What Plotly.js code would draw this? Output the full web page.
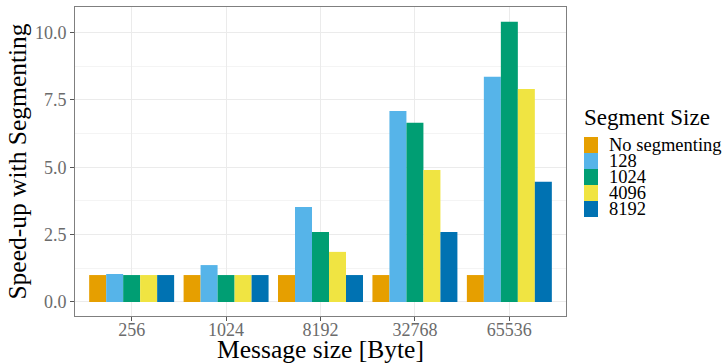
<!DOCTYPE html>
<html>
<head>
<meta charset="utf-8">
<script src="https://cdn.plot.ly/plotly-3.0.1.min.js"></script>
<style>html,body{margin:0;padding:0;background:#fff;}#chart{width:726px;height:364px;}</style>
</head>
<body>
<div id="chart"></div>
<script>
const categories = ["256", "1024", "8192", "32768", "65536"];
const seriesNames = ["No segmenting", "128", "1024", "4096", "8192"];
const noSegmenting = [1.0, 1.0, 1.0, 1.0, 1.0];
const seg128 = [1.04, 1.37, 3.53, 7.09, 8.36];
const seg1024 = [1.0, 1.0, 2.6, 6.65, 10.4];
const seg4096 = [1.0, 1.0, 1.86, 4.9, 7.91];
const seg8192 = [1.0, 1.0, 1.0, 2.6, 4.46];
const seriesValues = [noSegmenting, seg128, seg1024, seg4096, seg8192];
const colors = ["#E69F00", "#56B4E9", "#009E73", "#F0E442", "#0072B2"];
const yTicks = [0, 2.5, 5, 7.5, 10];
const legendTitle = "Segment Size";

const font = "Liberation Serif, DejaVu Serif, serif";

// plot area geometry (pixels)
const W = 726, H = 364;
const M = {l: 75, r: 160, t: 7, b: 48};
const PW = W - M.l - M.r, PH = H - M.t - M.b;
const px2x = px => (px - M.l) / PW;
const py2y = py => (H - M.b - py) / PH;

const traces = seriesNames.map((name, i) => ({
  type: "bar",
  name: name,
  x: categories,
  y: seriesValues[i],
  marker: {color: colors[i], line: {width: 0}},
  showlegend: false,
  hoverinfo: "x+y+name"
}));

// custom legend (ggplot-style, tight keys)
const keyLeft = 584, keyW = 14, keyH = 16, keyTop = 137;
const shapes = [];
const annotations = [{
  xref: "paper", yref: "paper",
  x: px2x(582), y: py2y(118),
  xanchor: "left", yanchor: "middle",
  text: legendTitle, showarrow: false,
  font: {family: font, size: 23, color: "#000"}
}];
seriesNames.forEach((name, i) => {
  const top = keyTop + i * keyH;
  shapes.push({
    type: "rect", xref: "paper", yref: "paper",
    x0: px2x(keyLeft), x1: px2x(keyLeft + keyW),
    y0: py2y(top + keyH), y1: py2y(top),
    fillcolor: colors[i], line: {width: 0}
  });
  annotations.push({
    xref: "paper", yref: "paper",
    x: px2x(607), y: py2y(top + keyH / 2),
    xanchor: "left", yanchor: "middle",
    text: name, showarrow: false,
    font: {family: font, size: 18.5, color: "#000"}
  });
});

const layout = {
  width: W,
  height: H,
  margin: M,
  paper_bgcolor: "#ffffff",
  plot_bgcolor: "#ffffff",
  barmode: "group",
  bargap: 0.1,
  bargroupgap: 0,
  font: {family: font, color: "#000"},
  xaxis: {
    type: "category",
    range: [-0.6, 4.6],
    showgrid: true,
    gridcolor: "#EBEBEB",
    gridwidth: 1,
    zeroline: false,
    showline: true,
    linecolor: "#7F7F7F",
    linewidth: 1,
    mirror: true,
    ticks: "outside",
    ticklen: 4,
    tickcolor: "#555",
    ticklabelstandoff: -7,
    tickfont: {family: font, size: 18, color: "#6b6b6b"},
    title: {text: "Message size [Byte]", font: {family: font, size: 25.5, color: "#000"}, standoff: 0}
  },
  yaxis: {
    range: [-0.52, 10.95],
    tickvals: yTicks,
    tickformat: ".1f",
    showgrid: true,
    gridcolor: "#EBEBEB",
    gridwidth: 1,
    minor: {dtick: 1.25, tick0: 0, showgrid: true, gridcolor: "#F4F4F4", gridwidth: 1, ticks: ""},
    zeroline: false,
    showline: true,
    linecolor: "#7F7F7F",
    linewidth: 1,
    mirror: true,
    ticks: "outside",
    ticklen: 4,
    tickcolor: "#555",
    tickfont: {family: font, size: 18, color: "#6b6b6b"},
    title: {text: "Speed-up with Segmenting", font: {family: font, size: 25.5, color: "#000"}, standoff: 0}
  },
  showlegend: false,
  shapes: shapes,
  annotations: annotations
};

Plotly.newPlot("chart", traces, layout, {displayModeBar: false, staticPlot: true});
</script>
</body>
</html>
